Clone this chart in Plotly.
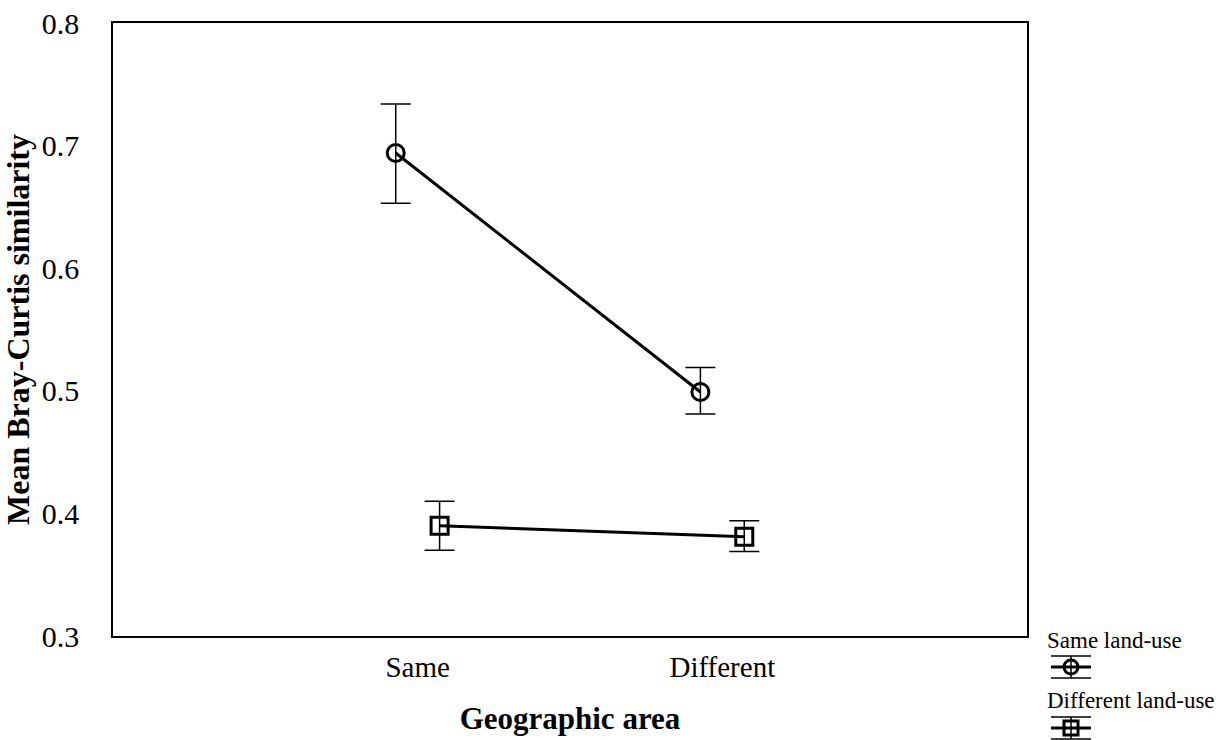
import plotly.graph_objects as go

categories = ["Same", "Different"]
series_names = ["Same land-use", "Different land-use"]
same_landuse_mean = [0.694, 0.499]
same_landuse_upper = [0.734, 0.519]
same_landuse_lower = [0.653, 0.481]
diff_landuse_mean = [0.390, 0.381]
diff_landuse_upper = [0.410, 0.394]
diff_landuse_lower = [0.370, 0.369]
y_ticks = [0.3, 0.4, 0.5, 0.6, 0.7, 0.8]

FONT = "Liberation Serif, Times New Roman, serif"
dodge = 0.072
base = list(range(len(categories)))

def trace(mean, up, lo, offset, symbol):
    return go.Scatter(
        x=[b + offset for b in base], y=mean, mode="lines+markers",
        line=dict(color="black", width=3),
        marker=dict(symbol=symbol, size=17, color="black", line=dict(width=3, color="black")),
        error_y=dict(type="data", symmetric=False,
                     array=[u - m for u, m in zip(up, mean)],
                     arrayminus=[m - l for m, l in zip(mean, lo)],
                     color="black", thickness=1.5, width=15),
        showlegend=False,
    )

fig = go.Figure()
fig.add_trace(trace(same_landuse_mean, same_landuse_upper, same_landuse_lower, -dodge, "circle-open"))
fig.add_trace(trace(diff_landuse_mean, diff_landuse_upper, diff_landuse_lower, dodge, "square-open"))

fig.update_layout(
    width=1223, height=740,
    margin=dict(l=113, r=196, t=23, b=104),
    plot_bgcolor="white", paper_bgcolor="white",
    font=dict(family=FONT, color="black"),
    xaxis=dict(range=[-1, 2], tickvals=base, ticktext=categories, automargin=False,
               showgrid=False, zeroline=False, showline=True, linecolor="black",
               linewidth=1.5, mirror=True, ticks="", tickfont=dict(size=29),
               ticklabelstandoff=4,
               title=dict(text="<b>Geographic area</b>", font=dict(size=31), standoff=26)),
    yaxis=dict(range=[0.3, 0.8], tickvals=y_ticks, ticktext=[f"{v:.1f}" for v in y_ticks],
               automargin=False,
               showgrid=False, zeroline=False, showline=True, linecolor="black",
               linewidth=1.5, mirror=True, ticks="", tickfont=dict(size=30),
               ticklabelstandoff=26,
               title=dict(text="<b>Mean Bray-Curtis similarity</b>", font=dict(size=32), standoff=18)),
)

# custom legend (text above glyph)
def px_x(p):
    return (p - 113) / 914
def px_y(p):
    return (636 - p) / 613

shapes = []
legend_specs = [(series_names[0], 640, 667, "circle"), (series_names[1], 700, 728, "rect")]
for name, ty, gy, kind in legend_specs:
    fig.add_annotation(x=px_x(1045), y=px_y(ty), xref="paper", yref="paper", text=name,
                       showarrow=False, xanchor="left", yanchor="middle",
                       font=dict(size=23, family=FONT, color="black"))
    cx = px_x(1071); cy = px_y(gy)
    for dy in (-11, 11):
        shapes.append(dict(type="line", xref="paper", yref="paper", xsizemode="pixel", ysizemode="pixel",
                           xanchor=cx, yanchor=cy, x0=-20, x1=20, y0=dy, y1=dy,
                           line=dict(color="black", width=1.5)))
    shapes.append(dict(type="line", xref="paper", yref="paper", xsizemode="pixel", ysizemode="pixel",
                       xanchor=cx, yanchor=cy, x0=-20, x1=20, y0=0, y1=0, line=dict(color="black", width=3)))
    shapes.append(dict(type="line", xref="paper", yref="paper", xsizemode="pixel", ysizemode="pixel",
                       xanchor=cx, yanchor=cy, x0=0, x1=0, y0=-11, y1=11, line=dict(color="black", width=1.5)))
    shapes.append(dict(type=kind, xref="paper", yref="paper", xsizemode="pixel", ysizemode="pixel",
                       xanchor=cx, yanchor=cy, x0=-7, x1=7, y0=-7, y1=7, line=dict(color="black", width=3)))
fig.update_layout(shapes=shapes)

fig.write_html("out.html")
